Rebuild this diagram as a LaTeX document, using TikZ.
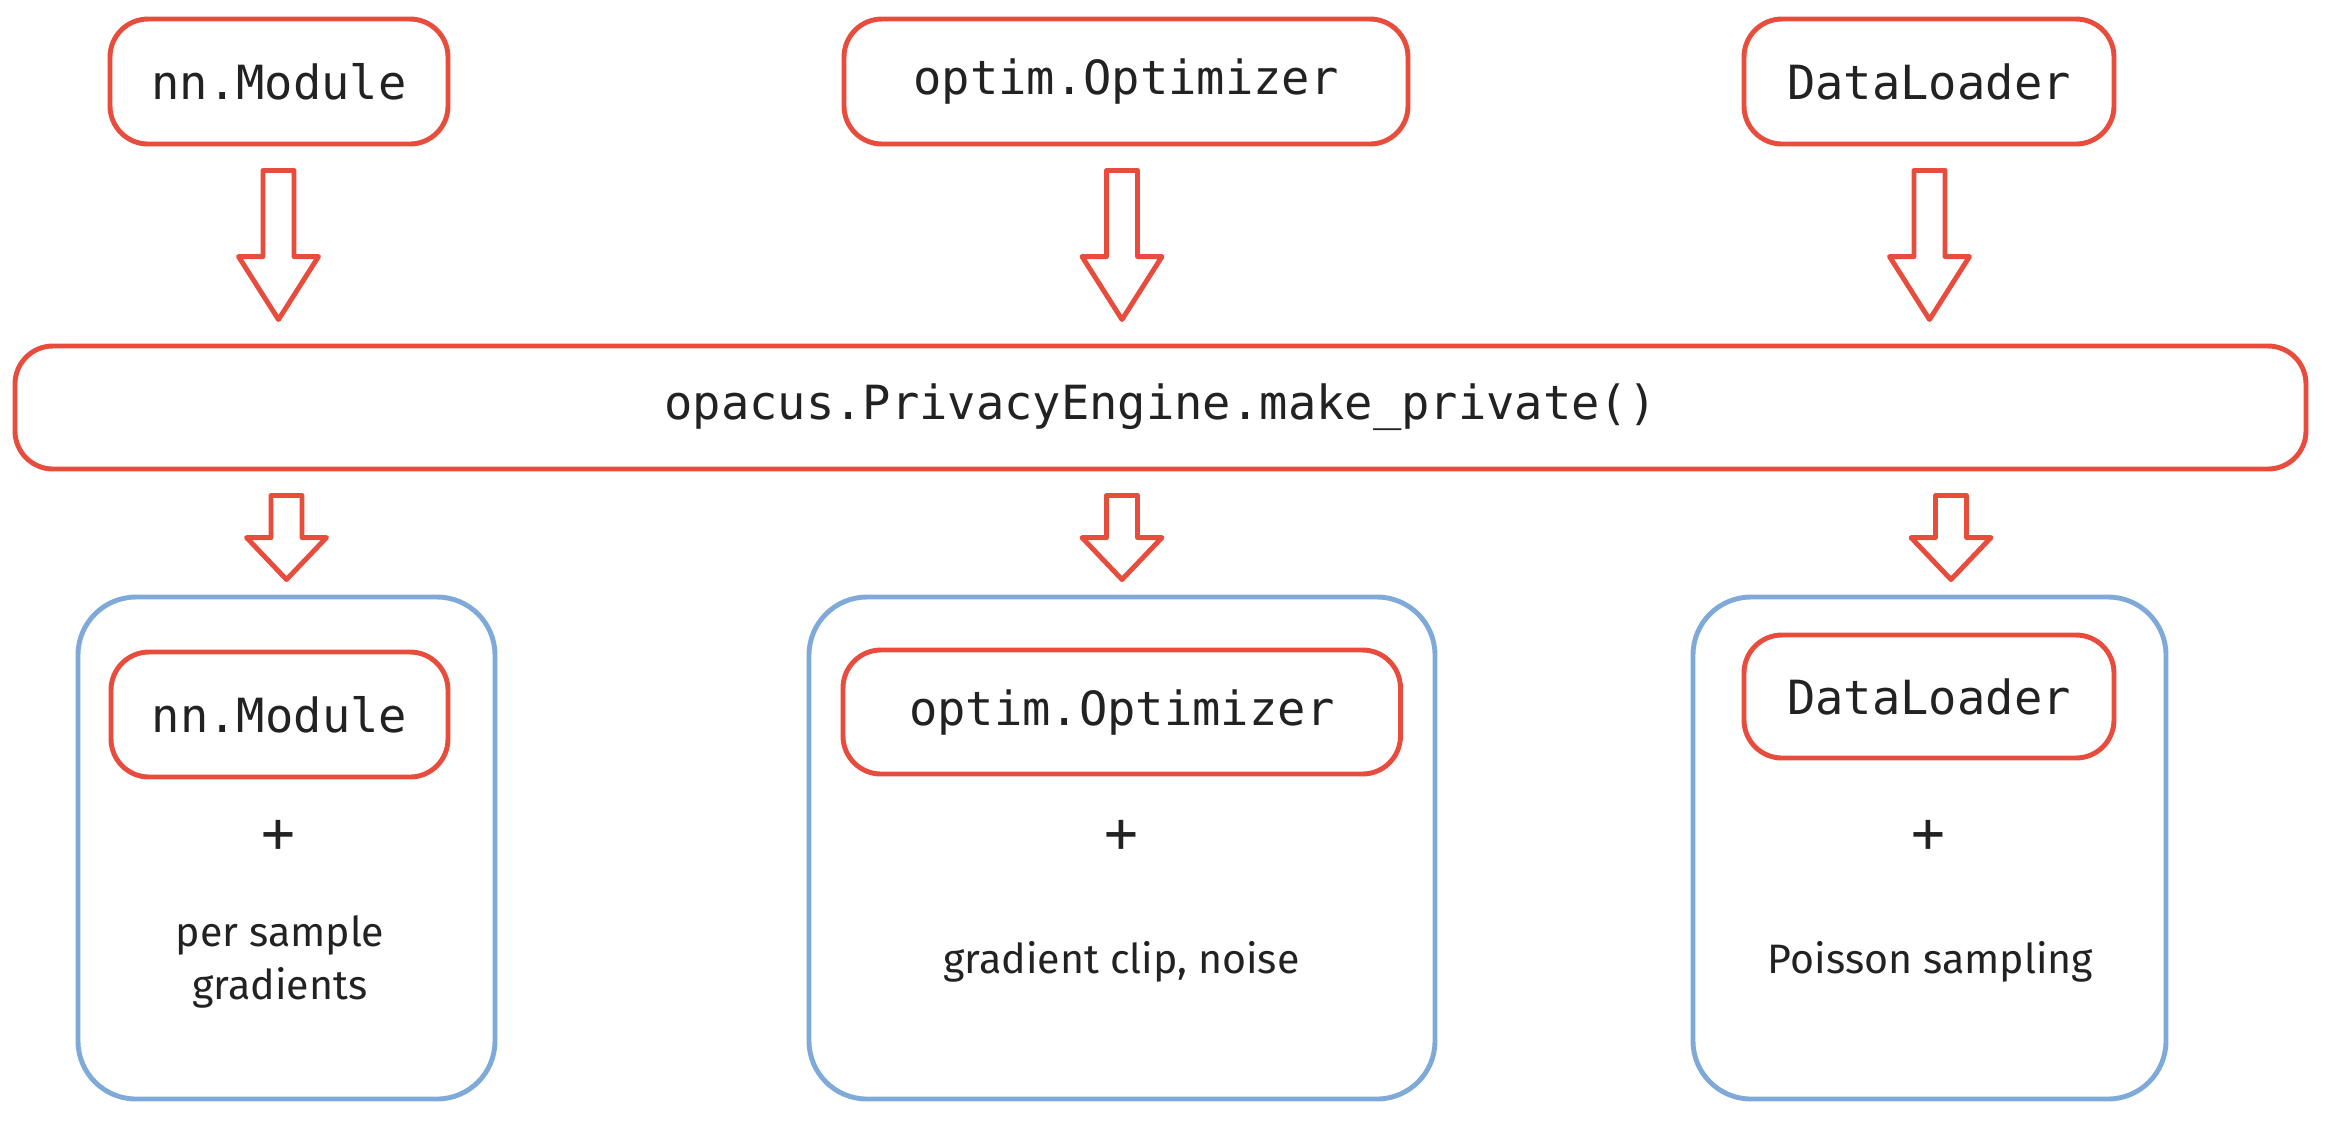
\documentclass[tikz,border=0pt]{standalone}
\usepackage{fontspec}
\setmainfont{Fira Sans}
\setmonofont{DejaVu Sans Mono}
\usetikzlibrary{calc}
\definecolor{optred}{RGB}{231,76,60}
\definecolor{optblue}{RGB}{126,169,216}
\definecolor{optink}{RGB}{34,34,34}
% hollow block arrow: #1 start of shaft, #2 tip (only its y is used), #3 head length
\newcommand{\fatarrow}[3]{%
  \draw[fat] let \p1=(#1), \p2=(#2) in
    (\x1-1.55mm,\y1) -- (\x1+1.55mm,\y1) -- (\x1+1.55mm,\y2+#3) -- (\x1+4mm,\y2+#3)
    -- (\x1,\y2) -- (\x1-4mm,\y2+#3) -- (\x1-1.55mm,\y2+#3) -- cycle;}
\begin{document}
\begin{tikzpicture}[line join=round, line cap=round, text=optink,
    redbox/.style={draw=optred, line width=1.4pt, rounded corners=3.8mm, inner sep=0pt,
      minimum height=1.25cm, font=\fontsize{13.4}{16}\selectfont\ttfamily},
    bluebox/.style={draw=optblue, line width=1.4pt, rounded corners=5.8mm, inner sep=0pt,
      minimum height=5.02cm},
    plus/.style={font=\fontsize{16}{18}\selectfont\ttfamily},
    fat/.style={draw=optred, line width=1.4pt},
    note/.style={font=\fontsize{11.7}{15}\selectfont, align=center}]
	\useasboundingbox (0,0) rectangle (23.34,-11.36);
	% inputs
	\node[redbox, minimum width=3.38cm] (inNet) at (2.79,-0.815) {nn.Module};
	\node[redbox, minimum width=5.64cm] (inOpt) at (11.26,-0.815) {optim.Optimizer};
	\node[redbox, minimum width=3.70cm] (inData) at (19.29,-0.815) {DataLoader};
	% engine
	\node[redbox, minimum width=22.91cm, minimum height=1.23cm] (engine) at (11.605,-4.075)
		{opacus.PrivacyEngine.make\_private()};
	% outputs
	\node[bluebox, minimum width=4.17cm] (outNet) at (2.865,-8.48) {};
	\node[bluebox, minimum width=6.26cm] (outOpt) at (11.22,-8.48) {};
	\node[bluebox, minimum width=4.73cm] (outData) at (19.295,-8.48) {};
	\node[redbox, minimum width=3.37cm] (net) at (2.795,-7.145) {nn.Module};
	\node[redbox, minimum width=5.575cm, minimum height=1.24cm] (opt) at (11.2175,-7.12) {optim.Optimizer};
	\node[redbox, minimum width=3.70cm, minimum height=1.23cm] (data) at (19.29,-6.965) {DataLoader};
	\node[plus] (plusNet) at (2.78,-8.36) {+};
	\node[plus] (plusOpt) at (11.21,-8.36) {+};
	\node[plus] (plusData) at (19.28,-8.36) {+};
	\node[note] (gradNet) at (2.80,-9.62) {per sample\\gradients};
	\node[note, anchor=base] (gradOpt) at (11.215,-9.73) {gradient clip, noise};
	\node[note, anchor=base] (gradData) at (19.305,-9.73) {Poisson sampling};
	% arrows
	\fatarrow{$(inNet.south)+(-0.005,-0.24)$}{$(engine.north)+(0,0.24)$}{6.3mm}
	\fatarrow{$(inOpt.south)+(-0.04,-0.24)$}{$(engine.north)+(0,0.24)$}{6.3mm}
	\fatarrow{$(inData.south)+(0.005,-0.24)$}{$(engine.north)+(0,0.24)$}{6.3mm}
	\fatarrow{$(engine.south -| outNet.north)+(0,-0.24)$}{$(outNet.north)+(0,0.15)$}{4.2mm}
	\fatarrow{$(engine.south -| outOpt.north)+(0,-0.24)$}{$(outOpt.north)+(0,0.15)$}{4.2mm}
	\fatarrow{$(engine.south -| outData.north)+(0.215,-0.24)$}{$(outData.north)+(0,0.15)$}{4.2mm}
\end{tikzpicture}
\end{document}
